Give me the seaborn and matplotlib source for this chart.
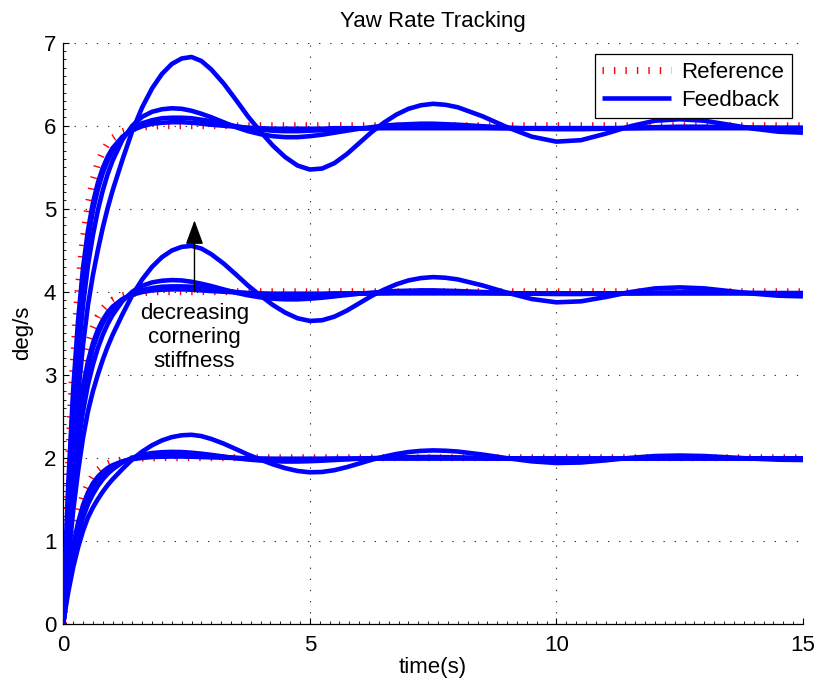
import numpy as np
import pandas as pd
import matplotlib
matplotlib.use('Agg')
import matplotlib.pyplot as plt
from matplotlib.lines import Line2D
from matplotlib.ticker import MultipleLocator
import seaborn as sns

# step levels of the yaw rate command (deg/s)
levels = [2, 4, 6]

# reference model response, normalised to the step level
t_ref = [0, 0.05, 0.1, 0.15, 0.2, 0.25, 0.3, 0.4, 0.5, 0.6, 0.7, 0.8, 0.9, 1.0,
         1.2, 1.4, 1.6, 1.8, 2.0, 15.0]
ref_shape = [0, 0.17, 0.31, 0.43, 0.52, 0.60, 0.67, 0.77, 0.84, 0.89, 0.925, 0.948,
             0.964, 0.975, 0.988, 0.994, 0.997, 0.999, 1.0, 1.0]

# feedback responses (normalised) for four cornering stiffness values
t_fb = [0, 0.05, 0.1, 0.2, 0.3, 0.4, 0.5, 0.6, 0.7, 0.8, 0.9, 1.0, 1.2, 1.4, 1.6, 1.8,
        2.0, 2.2, 2.4, 2.6, 2.8, 3.0, 3.25, 3.5, 3.75, 4.0, 4.25, 4.5, 4.75, 5.0,
        5.25, 5.5, 5.75, 6.0, 6.25, 6.5, 6.75, 7.0, 7.25, 7.5, 7.75, 8.0, 8.5, 9.0,
        9.5, 10.0, 10.5, 11.0, 11.5, 12.0, 12.5, 13.0, 13.5, 14.0, 14.5, 15.0]
fb_a = [0, 0.10, 0.19, 0.34, 0.46, 0.56, 0.64, 0.70, 0.75, 0.795, 0.835, 0.87, 0.932, 0.99,
        1.037, 1.075, 1.104, 1.124, 1.135, 1.138, 1.13, 1.113, 1.085, 1.052, 1.018, 0.988,
        0.96, 0.937, 0.92, 0.912, 0.914, 0.925, 0.943, 0.965, 0.987, 1.006, 1.022, 1.034,
        1.041, 1.044, 1.042, 1.037, 1.019, 0.997, 0.978, 0.968, 0.971, 0.984, 0.999, 1.01,
        1.013, 1.01, 1.002, 0.994, 0.988, 0.986]
fb_b = [0, 0.12, 0.23, 0.41, 0.54, 0.64, 0.72, 0.78, 0.83, 0.87, 0.903, 0.93, 0.972, 1.0,
        1.018, 1.028, 1.033, 1.035, 1.034, 1.03, 1.024, 1.017, 1.007, 0.997, 0.989, 0.983,
        0.979, 0.977, 0.977, 0.979, 0.982, 0.986, 0.99, 0.994, 0.997, 1.0, 1.002, 1.003,
        1.004, 1.004, 1.003, 1.002, 0.999, 0.996, 0.994, 0.993, 0.993, 0.994, 0.996, 0.997,
        0.998, 0.998, 0.997, 0.996, 0.995, 0.995]
fb_c = [0, 0.14, 0.26, 0.45, 0.59, 0.69, 0.77, 0.83, 0.872, 0.905, 0.93, 0.95, 0.977, 0.994,
        1.005, 1.011, 1.015, 1.016, 1.016, 1.015, 1.012, 1.009, 1.004, 0.999, 0.995, 0.992,
        0.99, 0.989, 0.989, 0.99, 0.991, 0.992, 0.993, 0.994, 0.995, 0.996, 0.997, 0.997,
        0.997, 0.997, 0.997, 0.997, 0.996, 0.995, 0.995, 0.995, 0.995, 0.995, 0.995, 0.996,
        0.996, 0.996, 0.996, 0.996, 0.996, 0.996]
fb_d = [0, 0.15, 0.28, 0.47, 0.61, 0.715, 0.79, 0.845, 0.885, 0.915, 0.938, 0.955, 0.978,
        0.991, 0.999, 1.004, 1.006, 1.007, 1.007, 1.006, 1.004, 1.002, 1.0, 0.998, 0.996,
        0.995, 0.994, 0.994, 0.994, 0.994, 0.994, 0.995, 0.995, 0.995, 0.995, 0.995, 0.995,
        0.995, 0.995, 0.995, 0.995, 0.995, 0.995, 0.995, 0.995, 0.995, 0.995, 0.995, 0.995,
        0.995, 0.995, 0.995, 0.995, 0.995, 0.995, 0.995]

sns.set_style('white')
plt.rcParams['font.family'] = ['Liberation Sans', 'DejaVu Sans']
plt.rcParams['lines.solid_capstyle'] = 'butt'
plt.rcParams['text.color'] = 'black'
plt.rcParams['axes.labelcolor'] = 'black'

# long-form tables for seaborn
ref_rows = []
for lv in levels:
    for t, v in zip(t_ref, ref_shape):
        ref_rows.append({'t': t, 'y': lv * v, 'run': 'ref%d' % lv})
df_ref = pd.DataFrame(ref_rows)

fb_rows = []
for lv in levels:
    for name, shape in [('a', fb_a), ('b', fb_b), ('c', fb_c), ('d', fb_d)]:
        for t, v in zip(t_fb, shape):
            fb_rows.append({'t': t, 'y': lv * v, 'run': '%s%d' % (name, lv)})
df_fb = pd.DataFrame(fb_rows)

fig = plt.figure(figsize=(8.17, 6.89), dpi=100)
ax = fig.add_axes([0.0775, 0.0948, 0.9053, 0.8432])

ref_ls = (0, (0.2, 1.45))
sns.lineplot(data=df_ref, x='t', y='y', units='run', estimator=None, sort=False,
             color='red', lw=5, linestyle=ref_ls, legend=False, ax=ax, zorder=2)
sns.lineplot(data=df_fb, x='t', y='y', units='run', estimator=None, sort=False,
             color='blue', lw=3.3, legend=False, ax=ax, zorder=3)

ax.set_xlim(0, 15)
ax.set_ylim(0, 7)
ax.xaxis.set_major_locator(MultipleLocator(5))
ax.xaxis.set_minor_locator(MultipleLocator(0.2))
ax.yaxis.set_major_locator(MultipleLocator(1))
ax.yaxis.set_minor_locator(MultipleLocator(0.1))
ax.tick_params(which='both', direction='in', colors='black', labelsize=16,
               bottom=True, left=True, top=False, right=False)
ax.tick_params(which='major', length=4, width=0.8)
ax.tick_params(which='minor', length=2, width=0.6)
ax.tick_params(axis='x', pad=8)
ax.tick_params(axis='y', pad=5)
ax.grid(True, which='major', color='0.2', lw=0.8, linestyle=(0, (1.2, 8.8)))
for side in ['top', 'right']:
    ax.spines[side].set_visible(False)
for side in ['left', 'bottom']:
    ax.spines[side].set_color('black')
    ax.spines[side].set_linewidth(0.9)

ax.set_title('Yaw Rate Tracking', fontsize=16, pad=11)
ax.set_xlabel('time(s)', fontsize=16, labelpad=1)
ax.set_ylabel('deg/s', fontsize=16, labelpad=8)

# annotation arrow
ax.annotate('', xy=(2.66, 4.86), xytext=(2.66, 4.0),
            arrowprops=dict(arrowstyle='-|>,head_length=1.5,head_width=0.55', lw=1,
                            color='black', shrinkA=0, shrinkB=0, mutation_scale=10),
            zorder=5)
ax.text(2.66, 3.45, 'decreasing\ncornering\nstiffness', ha='center', va='center',
        fontsize=16, linespacing=1.2, zorder=5)

handles = [Line2D([], [], color='red', lw=5, linestyle=ref_ls),
           Line2D([], [], color='blue', lw=3.3)]
leg = ax.legend(handles, ['Reference', 'Feedback'], loc='upper right', fontsize=16,
                handlelength=3.1, handletextpad=0.45, labelspacing=0.32,
                borderaxespad=0.5, fancybox=False, framealpha=1, edgecolor='black',
                borderpad=0.35)
leg.get_frame().set_linewidth(0.9)

fig.savefig('out.png', dpi=100)
